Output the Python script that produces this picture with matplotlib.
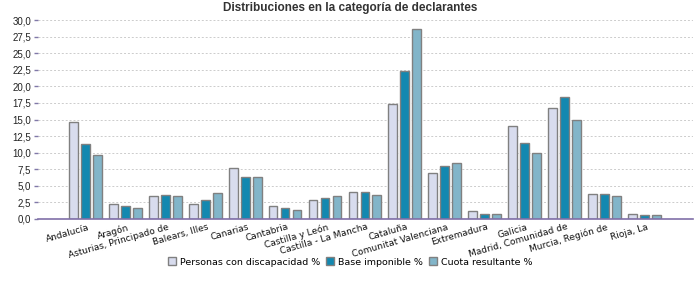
import matplotlib
matplotlib.use("Agg")
import matplotlib.pyplot as plt
import matplotlib.transforms as mtransforms
import numpy as np

categories = ["Andalucía", "Aragón", "Asturias, Principado de", "Balears, Illes",
              "Canarias", "Cantabria", "Castilla y León", "Castilla - La Mancha",
              "Cataluña", "Comunitat Valenciana", "Extremadura", "Galicia",
              "Madrid, Comunidad de", "Murcia, Región de", "Rioja, La"]
personas = [14.6, 2.2, 3.4, 2.2, 7.7, 1.9, 2.8, 4.0, 17.3, 6.9, 1.2, 14.0, 16.7, 3.7, 0.7]
base = [11.3, 1.9, 3.6, 2.8, 6.3, 1.6, 3.1, 4.0, 22.3, 8.0, 0.7, 11.5, 18.4, 3.7, 0.55]
cuota = [9.7, 1.6, 3.4, 3.9, 6.3, 1.3, 3.4, 3.6, 28.6, 8.4, 0.7, 10.0, 14.9, 3.4, 0.55]
series_names = ["Personas con discapacidad %", "Base imponible %", "Cuota resultante %"]
colors = ["#d8dcee", "#1388b0", "#82b5c9"]
yticks = np.arange(0, 30.01, 2.5)

plt.rcParams['font.family'] = ['Liberation Sans', 'DejaVu Sans']

fig = plt.figure(figsize=(7, 3), dpi=100)
ax = fig.add_axes([38/700, 1-219/300, (693-38)/700, (219-20)/300])

x = np.arange(len(categories))
w = 0.22
off = 0.30
for i, (vals, name, c) in enumerate(zip([personas, base, cuota], series_names, colors)):
    ax.bar(x + (i-1)*off, vals, width=w, color=c, edgecolor="#808080", linewidth=1.0,
           label=name, zorder=3)

ax.set_xlim(-1.19, len(categories)-1+1.22)
ax.set_ylim(0, 30)
ax.set_yticks(yticks)
ax.set_yticklabels([f"{v:.1f}".replace('.', ',') for v in yticks], fontsize=7, color="#222222")
ax.yaxis.grid(True, color="#cccccc", linestyle=(0, (2, 2)), linewidth=0.7, zorder=0)
ax.tick_params(axis='y', length=3, width=1, color="#8078a8", pad=2)
ax.set_xticks(x)
ax.set_xticklabels(categories, rotation=16, ha='right', va='top', rotation_mode='anchor',
                   fontsize=6.5, color="#111111", family='DejaVu Sans')
ax.tick_params(axis='x', length=0, pad=2.5)
shift = mtransforms.ScaledTranslation(2/100, 0, fig.dpi_scale_trans)
for lbl in ax.get_xticklabels():
    lbl.set_transform(lbl.get_transform() + shift)
for s in ['left', 'right', 'top']:
    ax.spines[s].set_visible(False)
ax.spines['bottom'].set_color("#8070a8")
ax.spines['bottom'].set_linewidth(1.2)
ax.spines['bottom'].set_zorder(4)

fig.text(0.5, 1-8/300, "Distribuciones en la categoría de declarantes", ha='center', va='center',
         fontsize=8.5, fontweight='bold', color="#333333")

fig.legend(loc='center', bbox_to_anchor=(0.5, 1-262/300), ncol=3, frameon=False,
           prop={'family': 'DejaVu Sans', 'size': 6.8},
           handlelength=0.9, handleheight=0.9, handletextpad=0.4, columnspacing=0.6)

fig.savefig("out.png", dpi=100)
